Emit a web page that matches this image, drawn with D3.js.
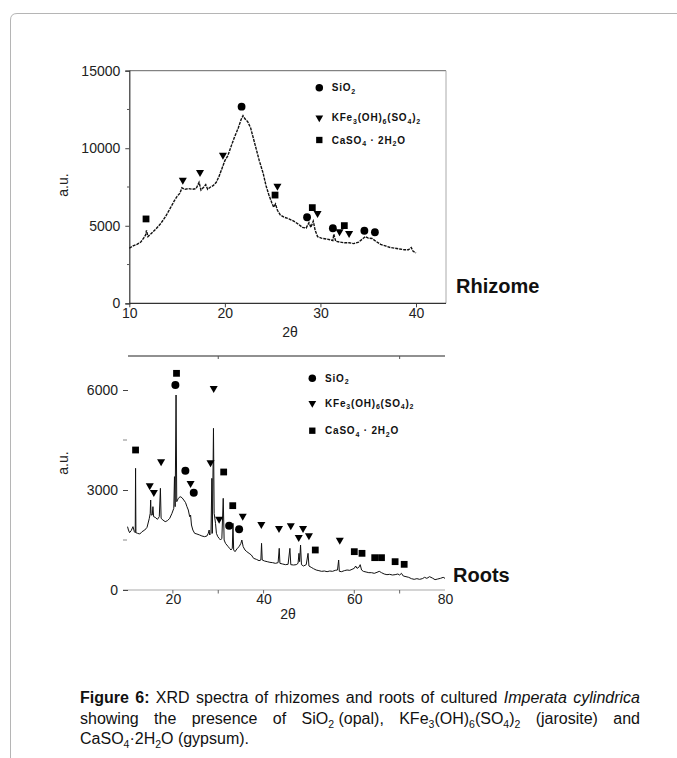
<!DOCTYPE html>
<html>
<head>
<meta charset="utf-8">
<title>XRD spectra - Imperata cylindrica</title>
<script src="https://cdnjs.cloudflare.com/ajax/libs/d3/7.8.5/d3.min.js"></script>
<style>
  body { margin: 0; background: #fff; }
  svg text { font-family: "Liberation Sans", Arial, Helvetica, sans-serif; }
</style>
</head>
<body>
<svg id="fig" width="677" height="758"></svg>
<script>
// ---- data: [2theta, intensity] ----
var rhizomeScan = [[10.0,3550],[10.4,3700],[10.8,3800],[11.2,3950],[11.5,4200],[11.7,4400],[11.8,4700],[11.95,4300],
  [12.3,4500],[12.8,4800],[13.3,5150],[13.8,5600],[14.3,6150],[14.7,6600],[15.0,6900],[15.3,7100],[15.5,7450],
  [15.8,7350],[16.2,7400],[16.6,7350],[17.0,7400],[17.3,7800],[17.5,7300],[17.8,7500],[18.0,7650],[18.2,7350],
  [18.5,7500],[18.8,7600],[19.1,7800],[19.4,8200],[19.7,8700],[20.0,9200],[20.3,9500],[20.7,10200],[21.0,10700],
  [21.4,11300],[21.7,11850],[21.9,12100],[22.1,11900],[22.4,11700],[22.7,11300],[23.0,10600],[23.3,9900],
  [23.6,9200],[24.0,8400],[24.3,7600],[24.6,7000],[24.9,6500],[25.1,6200],[25.3,6400],[25.5,6000],[25.8,5700],
  [26.2,5550],[26.7,5450],[27.2,5300],[27.7,5100],[28.1,4900],[28.5,4850],[28.8,5200],[29.0,4900],[29.25,5300],
  [29.45,4700],[29.7,4300],[30.1,4200],[30.6,4150],[31.0,4100],[31.3,4050],[31.4,4450],[31.6,4000],[32.0,3950],
  [32.5,3900],[33.0,3900],[33.5,3850],[34.0,3950],[34.4,4150],[34.7,4300],[35.0,4200],[35.4,4180],[35.8,4000],
  [36.3,3800],[36.8,3700],[37.3,3600],[37.8,3550],[38.3,3500],[38.8,3450],[39.2,3450],[39.5,3600],[39.7,3350],
  [40.0,3250]];

var rootsScan = [[10.0,1900],[10.2,1800],[10.45,1720],[10.8,1780],[11.2,1900],[11.5,1750],[11.7,1720],[11.77,3650],
  [11.85,1720],[12.2,1700],[12.7,1680],[13.2,1750],[13.8,1800],[14.3,1880],[14.8,2150],[15.0,2300],[15.1,2700],
  [15.2,2250],[15.45,2250],[15.6,2500],[15.75,2200],[16.1,2180],[16.6,2120],[17.0,2200],[17.25,3050],[17.4,2150],
  [17.8,2100],[18.3,2050],[18.8,2080],[19.3,2150],[19.8,2300],[20.2,2450],[20.35,3400],[20.5,2500],[20.7,5850],
  [20.85,2650],[21.2,2750],[21.6,2800],[22.0,2770],[22.4,2700],[22.8,2620],[23.1,2500],[23.4,2400],[23.7,2200],
  [23.9,2250],[24.1,1950],[24.4,1800],[24.8,1700],[25.3,1680],[25.9,1650],[26.4,1620],[27.0,1600],[27.5,1620],
  [27.8,1700],[28.0,1800],[28.1,1650],[28.4,1700],[28.6,3350],[28.7,1700],[28.95,4850],[29.1,2300],[29.4,2000],
  [29.6,1700],[29.9,1600],[30.2,1550],[30.5,1500],[30.8,1550],[31.1,2750],[31.3,1500],[31.6,1400],[31.9,1350],
  [32.2,1300],[32.5,1250],[32.8,1200],[33.1,1250],[33.25,2000],[33.4,1200],[33.7,1150],[34.2,1250],[34.6,1300],
  [35.0,1400],[35.2,1500],[35.5,1300],[35.9,1200],[36.3,1150],[36.8,1100],[37.3,1050],[37.8,950],[38.4,920],
  [39.0,880],[39.4,900],[39.55,1400],[39.7,900],[40.2,870],[40.8,850],[41.4,830],[42.0,820],[42.6,800],[43.2,820],
  [43.45,1250],[43.6,800],[44.2,780],[44.8,760],[45.4,770],[45.8,1250],[46.0,760],[46.6,750],[47.2,760],[47.6,800],
  [47.8,1100],[47.95,850],[48.15,1350],[48.35,760],[48.8,720],[49.4,760],[49.8,1100],[50.0,720],[50.5,680],
  [51.0,640],[51.6,600],[52.2,580],[52.8,560],[53.4,570],[54.0,550],[54.6,570],[55.2,560],[55.8,590],[56.3,600],
  [56.55,900],[56.7,560],[57.2,550],[57.8,580],[58.4,600],[59.0,590],[59.5,620],[60.0,650],[60.3,720],[60.6,650],
  [61.0,680],[61.3,760],[61.6,600],[62.0,560],[62.6,540],[63.2,520],[63.8,520],[64.4,500],[65.0,530],[65.5,560],
  [66.0,520],[66.6,480],[67.2,460],[67.8,470],[68.4,450],[69.0,460],[69.6,480],[70.0,450],[70.4,500],[70.8,420],
  [71.4,400],[72.0,380],[72.6,340],[73.2,320],[73.8,340],[74.4,320],[75.0,340],[75.5,380],[76.0,350],[76.6,400],
  [77.2,360],[77.8,310],[78.4,330],[79.0,350],[79.6,380],[80.0,350]];

var rhizomeSiO2 = [[21.75,12680],[28.6,5550],[31.3,4840],[34.6,4680],[35.7,4580]];
var rhizomeJarosite = [[15.6,7950],[17.4,8450],[19.8,9560],[25.5,7560],[29.7,5800],[32.0,4620],[33.0,4510]];
var rhizomeGypsum = [[11.75,5440],[25.25,6980],[29.15,6170],[32.5,5010]];

var rootsSiO2 = [[20.55,6150],[22.75,3580],[24.6,2920],[32.4,1930],[34.6,1820]];
var rootsJarosite = [[29.0,6050],[17.4,3850],[14.9,3130],[15.8,2930],[28.3,3820],[23.9,3200],[30.2,2130],
  [35.4,2220],[39.5,1970],[43.4,1850],[46.0,1930],[48.7,1850],[47.75,1580],[50.0,1630],[56.8,1500]];
var rootsGypsum = [[20.8,6500],[11.77,4200],[31.2,3540],[33.2,2530],[51.4,1200],[60.0,1150],[61.7,1100],
  [64.5,970],[66.0,970],[69.0,850],[71.0,770]];

var rhizomeXTicks = [10, 20, 30, 40];
var rhizomeYTicks = [0, 5000, 10000, 15000];
var rhizomeYMinor = [2500, 7500, 12500];
var rootsXTicks = [20, 40, 60, 80];
var rootsXTickMarks = [20, 30, 40, 60, 70];
var rootsYTicks = [0, 3000, 6000];
var rootsYMinor = [1500, 4500];

// legend entries: [symbol, text segments]
var legendItems = [
  ["circle",   [["SiO",""],["2","sub"]]],
  ["triangle", [["KFe",""],["3","sub"],["(OH)",""],["6","sub"],["(SO",""],["4","sub"],[")",""],["2","sub"]]],
  ["square",   [["CaSO",""],["4","sub"],[" \u00b7 2H",""],["2","sub"],["O",""]]]
];

var captionLines = [
  [[["Figure","b"]],[["6:","b"]],[["XRD",""]],[["spectra",""]],[["of",""]],[["rhizomes",""]],[["and",""]],
   [["roots",""]],[["of",""]],[["cultured",""]],[["Imperata","i"]],[["cylindrica","i"]]],
  [[["showing",""]],[["the",""]],[["presence",""]],[["of",""]],[["SiO",""],["2","sub"],[" (opal),",""]],
   [["KFe",""],["3","sub"],["(OH)",""],["6","sub"],["(SO",""],["4","sub"],[")",""],["2","sub"]],
   [["(jarosite)",""]],[["and",""]]],
  [[["CaSO",""],["4","sub"],["\u00b72H",""],["2","sub"],["O",""]],[["(gypsum).",""]]]
];

var svg = d3.select("#fig");

// page frame (rounded corner, top-left)
svg.append("path")
  .attr("d", "M10.5,758 L10.5,20 Q10.5,13.5 17,13.5 L677,13.5")
  .attr("fill", "none").attr("stroke", "#b5b5b5").attr("stroke-width", 1);

// rich text helper with subscripts
function richText(textSel, segs, fs, subFs, subDy) {
  var prevSub = false;
  segs.forEach(function(s) {
    var isSub = s[1] == "sub";
    var t = textSel.append("tspan").text(s[0]);
    if (isSub) t.attr("font-size", subFs);
    if (s[1] == "b") t.attr("font-weight", "bold");
    if (s[1] == "i") t.attr("font-style", "italic");
    if (isSub && !prevSub) t.attr("dy", subDy);
    if (!isSub && prevSub) t.attr("dy", -subDy);
    prevSub = isSub;
  });
}

function symbolPath(kind, size) {
  if (kind == "circle") return d3.symbol(d3.symbolCircle, size)();
  if (kind == "square") return d3.symbol(d3.symbolSquare, size)();
  return d3.symbol(d3.symbolTriangle, size)();
}

function drawMarkers(g, pts, kind, x, y, size) {
  g.selectAll(null).data(pts).enter().append("path")
    .attr("d", symbolPath(kind, size))
    .attr("transform", function(d) {
      return "translate(" + x(d[0]) + "," + y(d[1]) + ")" + (kind == "triangle" ? " rotate(180)" : "");
    })
    .attr("fill", "#000");
}

function drawLegend(g, x0, ys, textX) {
  legendItems.forEach(function(it, i) {
    var kind = it[0];
    g.append("path")
      .attr("d", symbolPath(kind, kind == "triangle" ? 26 : (kind == "circle" ? 44 : 40)))
      .attr("transform", "translate(" + x0 + "," + ys[i] + ")" + (kind == "triangle" ? " rotate(180)" : ""))
      .attr("fill", "#000");
    var t = g.append("text")
      .attr("x", textX).attr("y", ys[i] + 3.5)
      .attr("font-size", 10).attr("font-weight", "bold").attr("letter-spacing", 0.8)
      .attr("fill", "#111");
    richText(t, it[1], 10, 7, 2.5);
  });
}

// ================= Rhizome panel =================
var x1 = d3.scaleLinear().domain([10, 40]).range([129.3, 416]);
var y1 = d3.scaleLinear().domain([0, 15000]).range([303.3, 70.7]);
var g1 = svg.append("g");

// frame top and right
g1.append("line").attr("x1", 129.3).attr("x2", 446).attr("y1", 70.7).attr("y2", 70.7)
  .attr("stroke", "#666").attr("stroke-width", 1);
g1.append("line").attr("x1", 446).attr("x2", 446).attr("y1", 70.7).attr("y2", 303.3)
  .attr("stroke", "#aaa").attr("stroke-width", 1);

var xAxis1 = g1.append("g").attr("transform", "translate(0,303.3)")
  .call(d3.axisBottom(x1).tickValues(rhizomeXTicks).tickSize(4).tickPadding(1).tickFormat(d3.format("d")));
xAxis1.select(".domain").remove();
g1.append("line").attr("x1", 129.3).attr("x2", 446).attr("y1", 303.3).attr("y2", 303.3)
  .attr("stroke", "#333").attr("stroke-width", 1.2);

var yAxis1 = g1.append("g").attr("transform", "translate(129.3,0)")
  .call(d3.axisLeft(y1).tickValues(rhizomeYTicks).tickSize(4).tickPadding(5).tickFormat(d3.format("d")));
yAxis1.select(".domain").attr("stroke", "#333").attr("stroke-width", 1.2);
g1.selectAll(null).data(rhizomeYMinor).enter().append("line")
  .attr("x1", 127).attr("x2", 129.3)
  .attr("y1", function(d) { return y1(d); }).attr("y2", function(d) { return y1(d); })
  .attr("stroke", "#555");

[xAxis1, yAxis1].forEach(function(a) {
  a.selectAll("text").attr("font-size", 14).attr("fill", "#222")
    .style("font-family", "'Liberation Sans', Arial, sans-serif");
  a.selectAll(".tick line").attr("stroke", "#444");
});

var line1 = d3.line().x(function(d) { return x1(d[0]); }).y(function(d) { return y1(d[1]); });
g1.append("path").datum(rhizomeScan).attr("d", line1)
  .attr("fill", "none").attr("stroke", "#111").attr("stroke-width", 1.4)
  .attr("stroke-dasharray", "3,1");

drawMarkers(g1, rhizomeSiO2, "circle", x1, y1, 48);
drawMarkers(g1, rhizomeJarosite, "triangle", x1, y1, 28);
drawMarkers(g1, rhizomeGypsum, "square", x1, y1, 46);
drawLegend(g1, 319.3, [87.7, 117.7, 140], 331.7);

g1.append("text").attr("transform", "translate(68,185) rotate(-90)").attr("text-anchor", "middle")
  .attr("font-size", 14).attr("fill", "#222").text("a.u.");
g1.append("text").attr("x", 290).attr("y", 337).attr("text-anchor", "middle")
  .attr("font-size", 14).attr("fill", "#222").text("2\u03b8");
g1.append("text").attr("x", 456).attr("y", 293).attr("font-size", 20).attr("font-weight", "bold")
  .attr("fill", "#111").text("Rhizome");

// ================= Roots panel =================
var x2 = d3.scaleLinear().domain([9, 80]).range([123, 445]);
var y2 = d3.scaleLinear().domain([0, 6000]).range([590, 390]);
var g2 = svg.append("g");

// separator line on top with two ticks
g2.append("line").attr("x1", 128).attr("x2", 445).attr("y1", 356).attr("y2", 356)
  .attr("stroke", "#222").attr("stroke-width", 1.2);
g2.selectAll(null).data([30, 70]).enter().append("line")
  .attr("x1", function(d) { return x2(d); }).attr("x2", function(d) { return x2(d); })
  .attr("y1", 356).attr("y2", 359).attr("stroke", "#555");

// bottom axis: light line, tick marks at selected values, labels separately
g2.append("line").attr("x1", 123).attr("x2", 445).attr("y1", 590).attr("y2", 590)
  .attr("stroke", "#aaa").attr("stroke-width", 1.2);
g2.selectAll(null).data(rootsXTickMarks).enter().append("line")
  .attr("x1", function(d) { return x2(d); }).attr("x2", function(d) { return x2(d); })
  .attr("y1", 590).attr("y2", 593.5).attr("stroke", "#666");
var xAxis2 = g2.append("g").attr("transform", "translate(0,590)")
  .call(d3.axisBottom(x2).tickValues(rootsXTicks).tickSize(0).tickPadding(4).tickFormat(d3.format("d")));
xAxis2.select(".domain").remove();

var yAxis2 = g2.append("g").attr("transform", "translate(128,0)")
  .call(d3.axisLeft(y2).tickValues(rootsYTicks).tickSize(5).tickPadding(5).tickFormat(d3.format("d")));
yAxis2.select(".domain").remove();
g2.selectAll(null).data(rootsYMinor).enter().append("line")
  .attr("x1", 123).attr("x2", 127)
  .attr("y1", function(d) { return y2(d); }).attr("y2", function(d) { return y2(d); })
  .attr("stroke", "#888");

[xAxis2, yAxis2].forEach(function(a) {
  a.selectAll("text").attr("font-size", 14).attr("fill", "#222")
    .style("font-family", "'Liberation Sans', Arial, sans-serif");
  a.selectAll(".tick line").attr("stroke", "#444");
});

var line2 = d3.line().x(function(d) { return x2(d[0]); }).y(function(d) { return y2(d[1]); });
g2.append("path").datum(rootsScan).attr("d", line2)
  .attr("fill", "none").attr("stroke", "#111").attr("stroke-width", 1)
  .attr("stroke-linejoin", "round");

drawMarkers(g2, rootsSiO2, "circle", x2, y2, 50);
drawMarkers(g2, rootsJarosite, "triangle", x2, y2, 28);
drawMarkers(g2, rootsGypsum, "square", x2, y2, 46);
drawLegend(g2, 312.3, [378.3, 403.3, 430.7], 325);

g2.append("text").attr("transform", "translate(68,463) rotate(-90)").attr("text-anchor", "middle")
  .attr("font-size", 14).attr("fill", "#222").text("a.u.");
g2.append("text").attr("x", 288).attr("y", 619).attr("text-anchor", "middle")
  .attr("font-size", 14).attr("fill", "#222").text("2\u03b8");
g2.append("text").attr("x", 453).attr("y", 582).attr("font-size", 20).attr("font-weight", "bold")
  .attr("fill", "#111").text("Roots");

// ================= Caption =================
var capLeft = 80, capRight = 640, capY = [703, 724, 744], capFs = 16;
var cap = svg.append("g").attr("fill", "#111");
captionLines.forEach(function(words, li) {
  var texts = words.map(function(w) {
    var t = cap.append("text").attr("y", capY[li]).attr("font-size", capFs);
    richText(t, w, capFs, 10.5, 4);
    return t;
  });
  var widths = texts.map(function(t) { return t.node().getComputedTextLength(); });
  var total = d3.sum(widths);
  var justify = li < captionLines.length - 1;
  var gap = justify ? (capRight - capLeft - total) / (words.length - 1) : 4.4;
  var xPos = capLeft;
  texts.forEach(function(t, i) {
    t.attr("x", xPos);
    xPos += widths[i] + gap;
  });
});
</script>
</body>
</html>
